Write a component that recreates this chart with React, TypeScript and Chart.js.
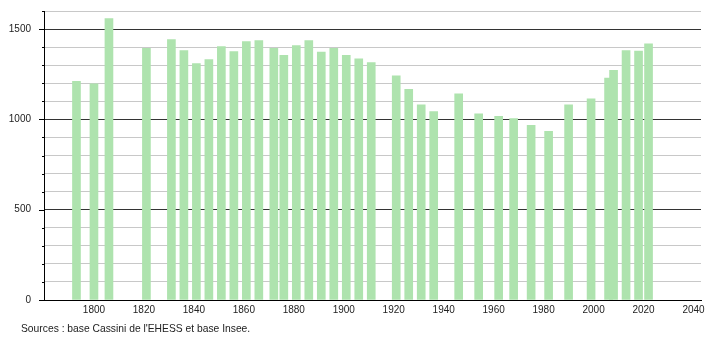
import React, { useEffect, useRef } from "react";
import { Chart, registerables } from "chart.js";

Chart.register(...registerables);

const censusYears = [1793, 1800, 1806, 1821, 1831, 1836, 1841, 1846, 1851, 1856, 1861, 1866, 1872, 1876, 1881, 1886, 1891, 1896, 1901, 1906, 1911, 1921, 1926, 1931, 1936, 1946, 1954, 1962, 1968, 1975, 1982, 1990, 1999, 2006, 2008, 2013, 2018, 2022];
const population = [1210, 1197, 1558, 1394, 1442, 1381, 1309, 1331, 1403, 1376, 1431, 1436, 1394, 1354, 1409, 1436, 1372, 1394, 1354, 1335, 1315, 1241, 1166, 1081, 1043, 1142, 1031, 1017, 1004, 967, 934, 1081, 1114, 1228, 1271, 1381, 1378, 1418];
const xTickValues = [1800, 1820, 1840, 1860, 1880, 1900, 1920, 1940, 1960, 1980, 2000, 2020, 2040];
const yGridValues = [0, 100, 200, 300, 400, 500, 600, 700, 800, 900, 1000, 1100, 1200, 1300, 1400, 1500, 1600];
const yLabelValues = [0, 500, 1000, 1500];
const sourceText = "Sources : base Cassini de l'EHESS et base Insee.";

const FONT = "'Liberation Sans', Arial, sans-serif";

export default function App() {
  const ref = useRef<HTMLCanvasElement | null>(null);

  useEffect(() => {
    if (!ref.current) return;
    const extras = {
      id: "extras",
      afterDraw(chart: any) {
        const ctx = chart.ctx;
        const y = chart.scales.y;
        const left = chart.chartArea.left;
        ctx.save();
        ctx.strokeStyle = "#000";
        ctx.lineWidth = 1;
        yGridValues.forEach((v) => {
          const py = Math.round(y.getPixelForValue(v)) + 0.5;
          const len = yLabelValues.includes(v) ? 5 : 2;
          ctx.beginPath();
          ctx.moveTo(left - len, py);
          ctx.lineTo(left + 0.5, py);
          ctx.stroke();
        });
        ctx.fillStyle = "#222";
        ctx.font = "10.3px " + FONT;
        ctx.textBaseline = "middle";
        ctx.textAlign = "left";
        ctx.fillText(sourceText, 21, 329);
        ctx.restore();
      },
    };

    const chart = new Chart(ref.current, {
      type: "bar",
      data: {
        datasets: [
          {
            data: censusYears.map((yr, i) => ({ x: yr, y: population[i] })),
            backgroundColor: "#aee3ae",
            barThickness: 8,
            borderWidth: 0,
          },
        ],
      },
      options: {
        responsive: false,
        animation: false,
        layout: { padding: { top: 11, right: 9, left: 0, bottom: 0 } },
        plugins: { legend: { display: false }, tooltip: { enabled: false }, title: { display: false } },
        scales: {
          x: {
            type: "linear",
            min: 1780,
            max: 2043,
            offset: false,
            grid: { display: false, drawTicks: false },
            border: { display: true, color: "#000", width: 1 },
            afterBuildTicks: (s: any) => {
              s.ticks = xTickValues.map((v) => ({ value: v }));
            },
            afterFit: (s: any) => {
              s.height = 40;
              s.paddingLeft = 0;
              s.paddingRight = 0;
            },
            ticks: {
              autoSkip: false,
              maxRotation: 0,
              padding: 4,
              color: "#222",
              font: { family: FONT, size: 10 },
              callback: (v: any) => String(v),
            },
          },
          y: {
            type: "linear",
            min: 0,
            max: 1600,
            afterBuildTicks: (s: any) => {
              s.ticks = yGridValues.map((v) => ({ value: v }));
            },
            afterFit: (s: any) => {
              s.width = 44;
              s.paddingTop = 0;
              s.paddingBottom = 0;
            },
            grid: {
              drawTicks: false,
              color: (c: any) => (c.tick && yLabelValues.includes(c.tick.value) ? "#333" : "#c8c8c8"),
              lineWidth: 1,
            },
            border: { display: true, color: "#000", width: 1 },
            ticks: {
              autoSkip: false,
              padding: 13,
              color: "#222",
              font: { family: FONT, size: 10 },
              callback: (v: any) => (yLabelValues.includes(Number(v)) ? String(v) : ""),
            },
          },
        },
      },
      plugins: [extras],
    });
    return () => chart.destroy();
  }, []);

  return (
    <div style={{ position: "fixed", left: 0, top: 0, width: 710, height: 340, background: "#fff" }}>
      <canvas ref={ref} width={710} height={340} style={{ width: 710, height: 340 }} />
    </div>
  );
}
